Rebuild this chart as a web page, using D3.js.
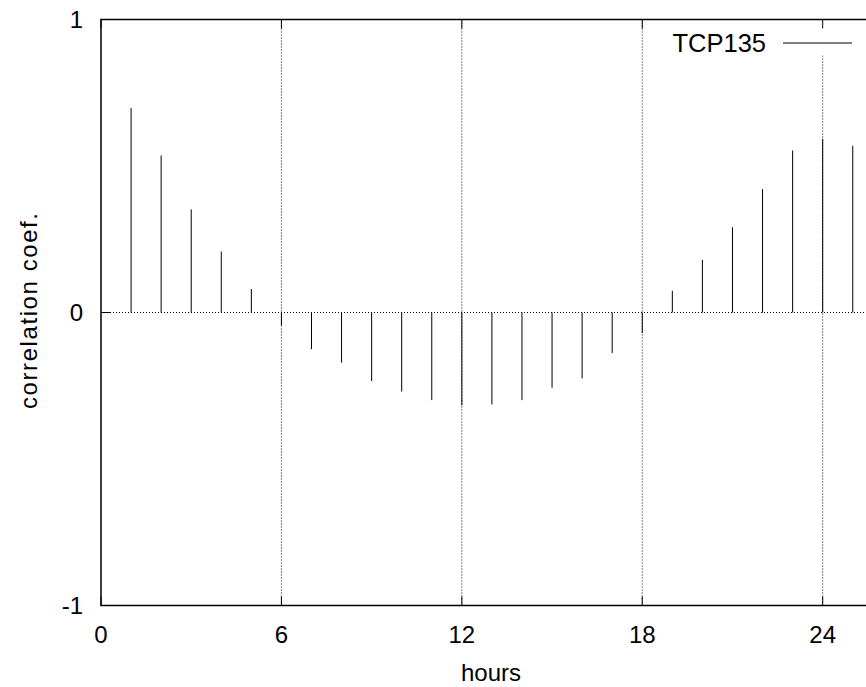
<!DOCTYPE html>
<html>
<head>
<meta charset="utf-8">
<script src="https://cdn.jsdelivr.net/npm/d3@7"></script>
<style>
  body { margin: 0; background: #fff; }
  svg text { font-family: "Liberation Sans", Arial, sans-serif; fill: #000; }
</style>
</head>
<body>
<svg id="chart"></svg>
<script>
// hourly lag vs correlation coefficient
const hours  = [1, 2, 3, 4, 5, 6, 7, 8, 9, 10, 11, 12, 13, 14, 15, 16, 17, 18, 19, 20, 21, 22, 23, 24, 25];
const coef   = [0.698, 0.536, 0.352, 0.208, 0.080, -0.044, -0.125, -0.171, -0.234, -0.270, -0.299, -0.317,
                -0.314, -0.299, -0.257, -0.225, -0.138, -0.070, 0.074, 0.180, 0.291, 0.421, 0.553, 0.592, 0.569];
const xTicks = [0, 6, 12, 18, 24];
const yTicks = [-1, 0, 1];
const seriesName = "TCP135";

const VW = 866, VH = 687;
const M = { left: 101, top: 19.5, bottom: 605.5 };

const svg = d3.select("#chart").attr("width", VW).attr("height", VH);

// plot runs past the right edge of the picture (cropped)
const x = d3.scaleLinear().domain([0, 26]).range([M.left, M.left + 26 * 30.07]);
const y = d3.scaleLinear().domain([-1, 1]).range([M.bottom, M.top]);

const plotR = x(26);

// grid (dotted)
const gridG = svg.append("g").attr("stroke", "#000").attr("stroke-width", 1)
  .attr("stroke-dasharray", "1,2");
xTicks.filter(d => d > 0).forEach(d => {
  gridG.append("line").attr("x1", x(d)).attr("x2", x(d))
    .attr("y1", M.top).attr("y2", M.bottom);
});
gridG.append("line").attr("x1", M.left).attr("x2", plotR)
  .attr("y1", y(0)).attr("y2", y(0));

// key (blanks the grid behind it)
const key = svg.append("g");
key.append("rect").attr("x", 660).attr("y", M.top + 1).attr("width", 206).attr("height", 35)
  .attr("fill", "#fff");
key.append("text").attr("x", 766).attr("y", 52).attr("text-anchor", "end")
  .attr("font-size", 25.5).text(seriesName);
key.append("line").attr("x1", 783).attr("x2", 852).attr("y1", 43).attr("y2", 43)
  .attr("stroke", "#000").attr("stroke-width", 1);

// impulses
svg.append("g").selectAll("line")
  .data(hours)
  .join("line")
  .attr("x1", d => x(d)).attr("x2", d => x(d))
  .attr("y1", y(0))
  .attr("y2", (d, i) => y(coef[i]))
  .attr("stroke", "#000").attr("stroke-width", 1);

// frame
svg.append("path")
  .attr("d", `M${plotR},${M.top}H${M.left}V${M.bottom}H${plotR}`)
  .attr("fill", "none").attr("stroke", "#000").attr("stroke-width", 1.5);

// inward ticks
const tickG = svg.append("g").attr("stroke", "#000").attr("stroke-width", 1);
xTicks.forEach(d => {
  tickG.append("line").attr("x1", x(d)).attr("x2", x(d)).attr("y1", M.bottom).attr("y2", M.bottom - 9);
  tickG.append("line").attr("x1", x(d)).attr("x2", x(d)).attr("y1", M.top).attr("y2", M.top + 9);
});
yTicks.forEach(d => {
  tickG.append("line").attr("x1", M.left).attr("x2", M.left + 9).attr("y1", y(d)).attr("y2", y(d));
});

// tick labels
svg.append("g").selectAll("text")
  .data(xTicks).join("text")
  .attr("x", d => x(d)).attr("y", 643)
  .attr("text-anchor", "middle").attr("font-size", 24)
  .text(d => d);
svg.append("g").selectAll("text")
  .data(yTicks).join("text")
  .attr("x", 83).attr("y", d => y(d) + 8.5)
  .attr("text-anchor", "end").attr("font-size", 24)
  .text(d => d);

// axis titles
svg.append("text").attr("x", 491).attr("y", 681)
  .attr("text-anchor", "middle").attr("font-size", 24).text("hours");
svg.append("text")
  .attr("transform", `translate(37,311) rotate(-90)`)
  .attr("text-anchor", "middle").attr("font-size", 24)
  .attr("textLength", 196).attr("lengthAdjust", "spacing")
  .text("correlation coef.");
</script>
</body>
</html>
